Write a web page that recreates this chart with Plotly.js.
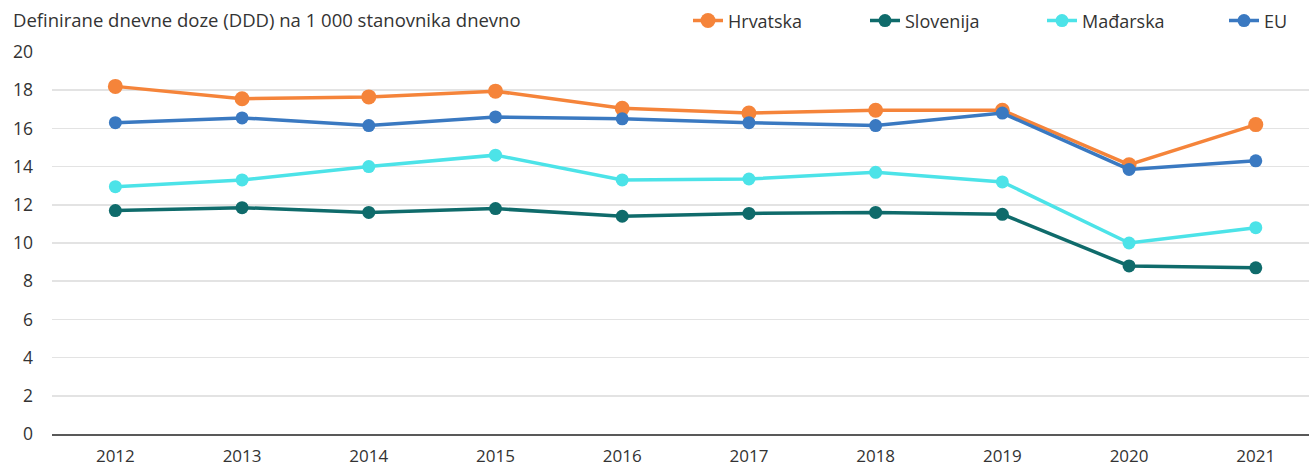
<!DOCTYPE html>
<html>
<head>
<meta charset="utf-8">
<script src="https://cdn.plot.ly/plotly-3.0.1.min.js"></script>
<style>html,body{margin:0;padding:0;background:#fff;}#chart{width:1309px;height:468px;}</style>
</head>
<body>
<div id="chart"></div>
<script>
const years = ['2012','2013','2014','2015','2016','2017','2018','2019','2020','2021'];
const hrvatska = [18.2, 17.55, 17.65, 17.95, 17.05, 16.8, 16.95, 16.95, 14.1, 16.2];
const slovenija = [11.7, 11.85, 11.6, 11.8, 11.4, 11.55, 11.6, 11.5, 8.8, 8.7];
const madarska = [12.95, 13.3, 14.0, 14.6, 13.3, 13.35, 13.7, 13.2, 10.0, 10.8];
const eu = [16.3, 16.55, 16.15, 16.6, 16.5, 16.3, 16.15, 16.8, 13.85, 14.3];
const yTicks = [0, 2, 4, 6, 8, 10, 12, 14, 16, 18, 20];
const titleText = 'Definirane dnevne doze (DDD) na 1 000 stanovnika dnevno';

const FONT = 'Open Sans, sans-serif';
function tr(name, y, color, msize, legendId) {
  return {
    type: 'scatter', mode: 'lines+markers', name: name,
    x: years, y: y, legend: legendId,
    line: {color: color, width: 3.5},
    marker: {color: color, size: msize}
  };
}
const data = [
  tr('Hrvatska', hrvatska, '#F5843A', 15, 'legend'),
  tr('Slovenija', slovenija, '#0F6B6B', 13, 'legend'),
  tr('Mađarska', madarska, '#4CE3E8', 13, 'legend'),
  tr('EU', eu, '#3A79C1', 13, 'legend2')
];
const legendBase = {
  orientation: 'h', xref: 'container', yref: 'container',
  y: 0.995, xanchor: 'left', yanchor: 'top',
  font: {family: FONT, size: 18, color: '#333'},
  bgcolor: 'rgba(0,0,0,0)', traceorder: 'normal'
};
const layout = {
  width: 1309, height: 468,
  margin: {l: 52, r: 0, t: 52, b: 34},
  paper_bgcolor: '#fff', plot_bgcolor: '#fff',
  font: {family: FONT, size: 17, color: '#333'},
  showlegend: true,
  legend: Object.assign({}, legendBase, {x: 688/1309, entrywidth: 132, entrywidthmode: 'pixels'}),
  legend2: Object.assign({}, legendBase, {x: 1224/1309}),
  annotations: [{
    xref: 'paper', yref: 'paper', x: 0, xshift: -41, y: 1 + 32/382,
    xanchor: 'left', yanchor: 'middle', showarrow: false,
    text: titleText, font: {family: FONT, size: 18.5, color: '#333'}
  }],
  xaxis: {
    type: 'category', range: [-0.5, 9.42],
    showgrid: false, zeroline: false,
    showline: true, linecolor: '#595959', linewidth: 2,
    ticks: '', ticklabelstandoff: 6,
    tickfont: {family: FONT, size: 17, color: '#333'},
    fixedrange: true
  },
  yaxis: {
    range: [0, 20], tickvals: yTicks, ticktext: yTicks.map(String),
    showgrid: true, gridcolor: '#e3e3e3', gridwidth: 1.5,
    zeroline: false, showline: false, ticks: '', ticklabelstandoff: 18,
    tickfont: {family: FONT, size: 17.5, color: '#333'},
    fixedrange: true
  }
};
Plotly.newPlot('chart', data, layout, {displayModeBar: false, staticPlot: true});
</script>
</body>
</html>
